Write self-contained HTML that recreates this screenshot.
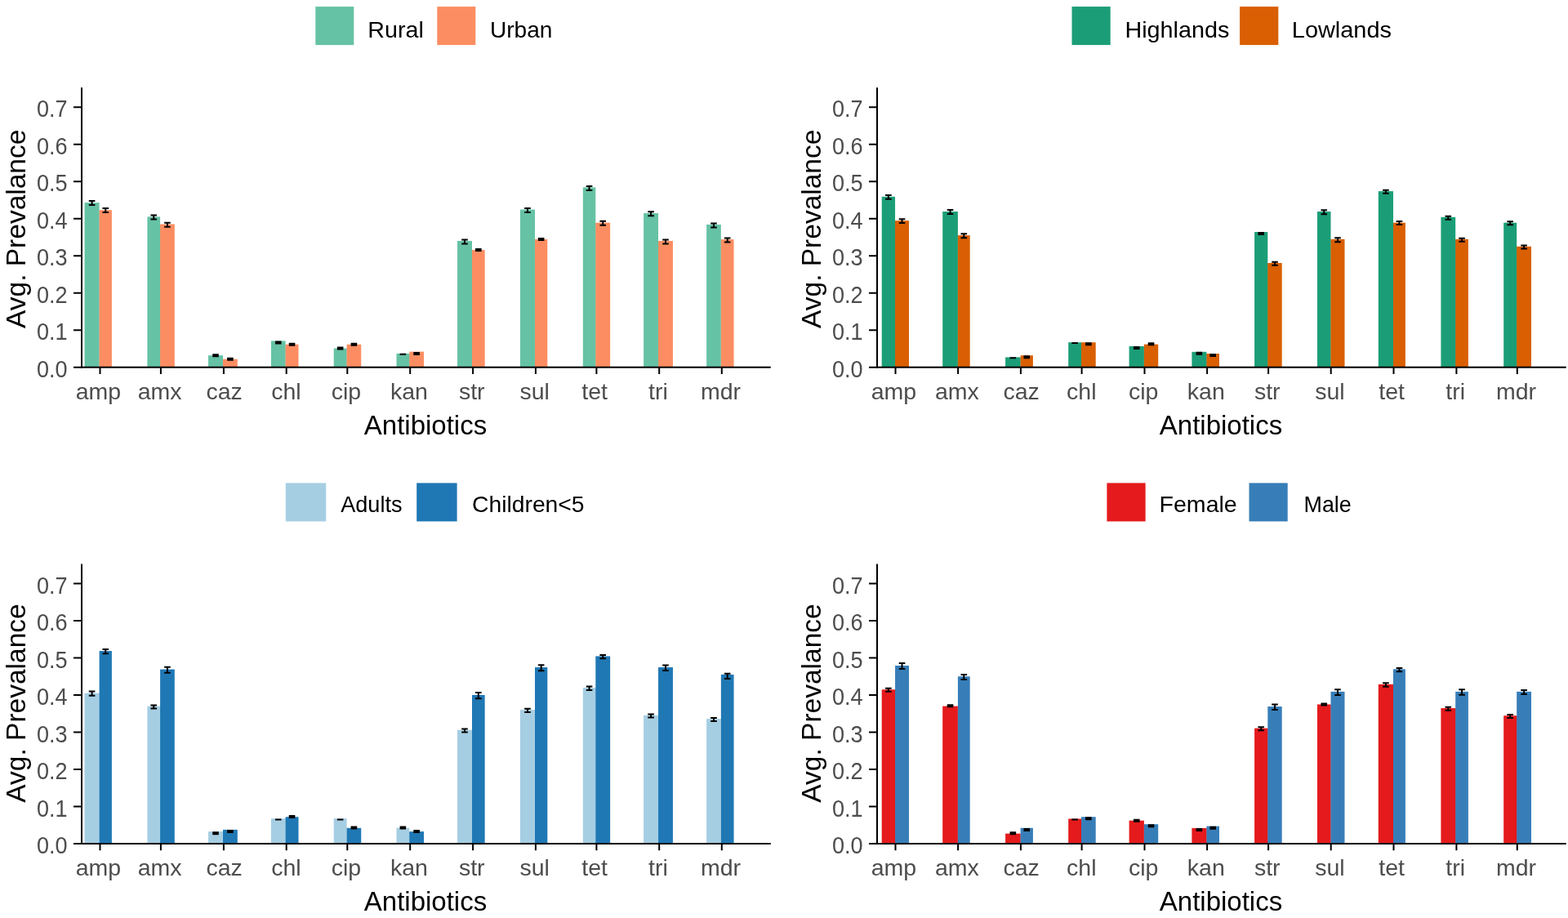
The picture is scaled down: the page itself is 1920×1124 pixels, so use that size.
<!DOCTYPE html>
<html><head><meta charset="utf-8"><title>Antibiotic resistance prevalence</title>
<style>
html,body{margin:0;padding:0;background:#fff;}
body{width:1920px;height:1124px;overflow:hidden;}
svg{display:block;}
text{font-family:"Liberation Sans",Arial,Helvetica,sans-serif;}
.yl{font-size:28.5px;fill:#4D4D4D;text-anchor:end;}
.xl{font-size:28.5px;fill:#4D4D4D;text-anchor:middle;}
.xt{font-size:33px;fill:#000;text-anchor:middle;}
.yt{font-size:33.5px;fill:#000;text-anchor:middle;}
.lg{font-size:28px;fill:#000;}
</style></head>
<body>
<svg width="1920" height="1124" viewBox="0 0 1920 1124">
<rect width="1920" height="1124" fill="#fff"/>
<rect x="103.6" y="248.09" width="18" height="201.61" fill="#66C2A5"/>
<rect x="121.6" y="257.69" width="1" height="192.01" fill="#66C2A5"/>
<rect x="121.6" y="257.19" width="15.3" height="192.51" fill="#FC8D62"/>
<rect x="180.4" y="265.38" width="15.7" height="184.32" fill="#66C2A5"/>
<rect x="196.1" y="274.99" width="1" height="174.71" fill="#66C2A5"/>
<rect x="196.1" y="274.49" width="17.7" height="175.21" fill="#FC8D62"/>
<rect x="255.05" y="435.14" width="17.95" height="14.56" fill="#66C2A5"/>
<rect x="273" y="440.19" width="1" height="9.51" fill="#66C2A5"/>
<rect x="273" y="439.69" width="17.8" height="10.01" fill="#FC8D62"/>
<rect x="331.9" y="417.39" width="17.7" height="32.31" fill="#66C2A5"/>
<rect x="349.6" y="422.21" width="1" height="27.49" fill="#66C2A5"/>
<rect x="349.6" y="421.71" width="15.9" height="27.99" fill="#FC8D62"/>
<rect x="408.7" y="426.49" width="15.9" height="23.21" fill="#66C2A5"/>
<rect x="424.6" y="426.99" width="1" height="22.71" fill="#66C2A5"/>
<rect x="424.6" y="421.71" width="17.65" height="27.99" fill="#FC8D62"/>
<rect x="485.5" y="432.86" width="15.75" height="16.84" fill="#66C2A5"/>
<rect x="501.25" y="433.36" width="1" height="16.34" fill="#66C2A5"/>
<rect x="501.25" y="430.59" width="17.75" height="19.11" fill="#FC8D62"/>
<rect x="560" y="294.97" width="18" height="154.73" fill="#66C2A5"/>
<rect x="578" y="306.57" width="1" height="143.13" fill="#66C2A5"/>
<rect x="578" y="306.07" width="15.65" height="143.63" fill="#FC8D62"/>
<rect x="636.9" y="256.56" width="18.1" height="193.14" fill="#66C2A5"/>
<rect x="655" y="293.46" width="1" height="156.24" fill="#66C2A5"/>
<rect x="655" y="292.96" width="15.3" height="156.74" fill="#FC8D62"/>
<rect x="713.8" y="229.43" width="15.5" height="220.27" fill="#66C2A5"/>
<rect x="729.3" y="273.17" width="1" height="176.53" fill="#66C2A5"/>
<rect x="729.3" y="272.67" width="17.85" height="177.03" fill="#FC8D62"/>
<rect x="788.1" y="261.06" width="17.95" height="188.64" fill="#66C2A5"/>
<rect x="806.05" y="295.47" width="1" height="154.23" fill="#66C2A5"/>
<rect x="806.05" y="294.97" width="17.9" height="154.73" fill="#FC8D62"/>
<rect x="865.1" y="274.94" width="17.75" height="174.76" fill="#66C2A5"/>
<rect x="882.85" y="293.65" width="1" height="156.05" fill="#66C2A5"/>
<rect x="882.85" y="293.15" width="15.7" height="156.55" fill="#FC8D62"/>
<path d="M108.8 245.99h7.6M108.8 250.99h7.6M112.6 245.99v5M125.45 254.99h7.6M125.45 259.99h7.6M129.25 254.99v5M184.45 263.58h7.6M184.45 268.58h7.6M188.25 263.58v5M201.15 272.79h7.6M201.15 277.79h7.6M204.95 272.79v5M260.22 434.14h7.6M260.22 436.14h7.6M264.02 434.14v2M278.1 438.69h7.6M278.1 440.69h7.6M281.9 438.69v2M336.95 418.59h7.6M336.95 420.59h7.6M340.75 418.59v2M353.75 420.71h7.6M353.75 422.71h7.6M357.55 420.71v2M412.85 425.49h7.6M412.85 427.49h7.6M416.65 425.49v2M429.62 420.71h7.6M429.62 422.71h7.6M433.43 420.71v2M489.57 433.86h7.6M489.57 433.86h7.6M493.38 433.86v0M506.32 431.89h7.6M506.32 433.89h7.6M510.12 431.89v2M565.2 293.47h7.6M565.2 298.47h7.6M569 293.47v5M582.03 305.07h7.6M582.03 307.07h7.6M585.83 305.07v2M642.15 255.06h7.6M642.15 260.06h7.6M645.95 255.06v5M658.85 291.96h7.6M658.85 293.96h7.6M662.65 291.96v2M717.75 227.93h7.6M717.75 232.93h7.6M721.55 227.93v5M734.42 270.77h7.6M734.42 275.77h7.6M738.22 270.77v5M793.28 259.36h7.6M793.28 264.36h7.6M797.08 259.36v5M811.2 293.47h7.6M811.2 298.47h7.6M815 293.47v5M870.18 273.44h7.6M870.18 278.44h7.6M873.98 273.44v5M886.9 291.45h7.6M886.9 296.45h7.6M890.7 291.45v5" stroke="#000" stroke-width="2" fill="none"/>
<rect x="99" y="107.2" width="2" height="343.5" fill="#000"/>
<rect x="99" y="448.7" width="844.75" height="2" fill="#000"/>
<text class="yl" transform="translate(82.6 462) scale(0.95 1.05)">0.0</text>
<text class="yl" transform="translate(82.6 416.49) scale(0.95 1.05)">0.1</text>
<text class="yl" transform="translate(82.6 370.98) scale(0.95 1.05)">0.2</text>
<text class="yl" transform="translate(82.6 325.47) scale(0.95 1.05)">0.3</text>
<text class="yl" transform="translate(82.6 279.96) scale(0.95 1.05)">0.4</text>
<text class="yl" transform="translate(82.6 234.45) scale(0.95 1.05)">0.5</text>
<text class="yl" transform="translate(82.6 188.94) scale(0.95 1.05)">0.6</text>
<text class="yl" transform="translate(82.6 143.43) scale(0.95 1.05)">0.7</text>
<text class="xl" x="120.4" y="489">amp</text>
<text class="xl" x="195.6" y="489">amx</text>
<text class="xl" x="274.6" y="489">caz</text>
<text class="xl" x="350.4" y="489">chl</text>
<text class="xl" x="424" y="489">cip</text>
<text class="xl" x="500.9" y="489">kan</text>
<text class="xl" x="577.8" y="489">str</text>
<text class="xl" x="654.6" y="489">sul</text>
<text class="xl" x="728.1" y="489">tet</text>
<text class="xl" x="805.9" y="489">tri</text>
<text class="xl" x="882.5" y="489">mdr</text>
<path d="M90 449.7H100M90 404.19H100M90 358.68H100M90 313.17H100M90 267.66H100M90 222.15H100M90 176.64H100M90 131.13H100M122.5 449.7V458M196.9 449.7V458M273.9 449.7V458M350.7 449.7V458M425.3 449.7V458M502.2 449.7V458M579.1 449.7V458M655.9 449.7V458M730.4 449.7V458M807.2 449.7V458M883.8 449.7V458" stroke="#000" stroke-width="2" fill="none"/>
<text class="xt" x="521" y="531.5">Antibiotics</text>
<text class="yt" transform="translate(31 280.3) rotate(-90)">Avg. Prevalance</text>
<rect x="386.3" y="8.1" width="47" height="47" fill="#66C2A5"/>
<text class="lg" x="450.3" y="46.2" textLength="68.5" lengthAdjust="spacingAndGlyphs">Rural</text>
<rect x="535.3" y="8.1" width="47" height="47" fill="#FC8D62"/>
<text class="lg" x="600" y="46.2" textLength="76.4" lengthAdjust="spacingAndGlyphs">Urban</text>
<rect x="1079.7" y="240.81" width="16.35" height="208.89" fill="#1B9E77"/>
<rect x="1096.05" y="270.66" width="1" height="179.04" fill="#1B9E77"/>
<rect x="1096.05" y="270.16" width="16.95" height="179.54" fill="#D95F02"/>
<rect x="1154.2" y="259.01" width="18.7" height="190.69" fill="#1B9E77"/>
<rect x="1172.9" y="288.64" width="1" height="161.06" fill="#1B9E77"/>
<rect x="1172.9" y="288.14" width="14.8" height="161.56" fill="#D95F02"/>
<rect x="1231.1" y="437.41" width="18.5" height="12.29" fill="#1B9E77"/>
<rect x="1249.6" y="437.91" width="1" height="11.79" fill="#1B9E77"/>
<rect x="1249.6" y="435.14" width="15.3" height="14.56" fill="#D95F02"/>
<rect x="1308.2" y="419.21" width="15.8" height="30.49" fill="#1B9E77"/>
<rect x="1324" y="419.71" width="1" height="29.99" fill="#1B9E77"/>
<rect x="1324" y="419.21" width="17.7" height="30.49" fill="#D95F02"/>
<rect x="1382.6" y="423.9" width="18.3" height="25.8" fill="#1B9E77"/>
<rect x="1400.9" y="424.4" width="1" height="25.3" fill="#1B9E77"/>
<rect x="1400.9" y="421.57" width="17.3" height="28.13" fill="#D95F02"/>
<rect x="1459.4" y="430.81" width="18" height="18.89" fill="#1B9E77"/>
<rect x="1477.4" y="433.5" width="1" height="16.2" fill="#1B9E77"/>
<rect x="1477.4" y="433" width="15.6" height="16.7" fill="#D95F02"/>
<rect x="1536.1" y="284.04" width="16.2" height="165.66" fill="#1B9E77"/>
<rect x="1552.3" y="322.5" width="1" height="127.2" fill="#1B9E77"/>
<rect x="1552.3" y="322" width="17.4" height="127.7" fill="#D95F02"/>
<rect x="1613" y="259.01" width="16.5" height="190.69" fill="#1B9E77"/>
<rect x="1629.5" y="293.37" width="1" height="156.33" fill="#1B9E77"/>
<rect x="1629.5" y="292.87" width="17" height="156.83" fill="#D95F02"/>
<rect x="1687.8" y="234.12" width="18.2" height="215.58" fill="#1B9E77"/>
<rect x="1706" y="273.17" width="1" height="176.53" fill="#1B9E77"/>
<rect x="1706" y="272.67" width="14.9" height="177.03" fill="#D95F02"/>
<rect x="1764.4" y="265.84" width="17.8" height="183.86" fill="#1B9E77"/>
<rect x="1782.2" y="293.37" width="1" height="156.33" fill="#1B9E77"/>
<rect x="1782.2" y="292.87" width="15.7" height="156.83" fill="#D95F02"/>
<rect x="1841.2" y="272.67" width="16" height="177.03" fill="#1B9E77"/>
<rect x="1857.2" y="302.29" width="1" height="147.41" fill="#1B9E77"/>
<rect x="1857.2" y="301.79" width="17.8" height="147.91" fill="#D95F02"/>
<path d="M1084.08 238.96h7.6M1084.08 243.66h7.6M1087.88 238.96v4.7M1100.73 268.31h7.6M1100.73 273.01h7.6M1104.53 268.31v4.7M1159.75 257.01h7.6M1159.75 262.01h7.6M1163.55 257.01v5M1176.5 286.14h7.6M1176.5 291.14h7.6M1180.3 286.14v5M1236.55 438.21h7.6M1236.55 438.21h7.6M1240.35 438.21v0M1253.45 436.24h7.6M1253.45 438.24h7.6M1257.25 436.24v2M1312.3 420.11h7.6M1312.3 420.11h7.6M1316.1 420.11v0M1329.05 420.31h7.6M1329.05 422.31h7.6M1332.85 420.31v2M1387.95 425h7.6M1387.95 427h7.6M1391.75 425v2M1405.75 420.37h7.6M1405.75 422.37h7.6M1409.55 420.37v2M1464.6 431.81h7.6M1464.6 433.81h7.6M1468.4 431.81v2M1481.4 434.1h7.6M1481.4 436.1h7.6M1485.2 434.1v2M1540.4 284.94h7.6M1540.4 286.94h7.6M1544.2 284.94v2M1557.2 320.8h7.6M1557.2 324.8h7.6M1561 320.8v4M1617.45 257.31h7.6M1617.45 262.31h7.6M1621.25 257.31v5M1634.2 291.17h7.6M1634.2 296.17h7.6M1638 291.17v5M1693.1 232.82h7.6M1693.1 236.82h7.6M1696.9 232.82v4M1709.65 271.07h7.6M1709.65 275.07h7.6M1713.45 271.07v4M1769.5 264.84h7.6M1769.5 268.84h7.6M1773.3 264.84v4M1786.25 291.67h7.6M1786.25 295.67h7.6M1790.05 291.67v4M1845.4 271.37h7.6M1845.4 275.37h7.6M1849.2 271.37v4M1862.3 300.49h7.6M1862.3 304.49h7.6M1866.1 300.49v4" stroke="#000" stroke-width="2" fill="none"/>
<rect x="1073" y="107.2" width="2" height="343.5" fill="#000"/>
<rect x="1073" y="448.7" width="844.75" height="2" fill="#000"/>
<text class="yl" transform="translate(1056.6 462) scale(0.95 1.05)">0.0</text>
<text class="yl" transform="translate(1056.6 416.49) scale(0.95 1.05)">0.1</text>
<text class="yl" transform="translate(1056.6 370.98) scale(0.95 1.05)">0.2</text>
<text class="yl" transform="translate(1056.6 325.47) scale(0.95 1.05)">0.3</text>
<text class="yl" transform="translate(1056.6 279.96) scale(0.95 1.05)">0.4</text>
<text class="yl" transform="translate(1056.6 234.45) scale(0.95 1.05)">0.5</text>
<text class="yl" transform="translate(1056.6 188.94) scale(0.95 1.05)">0.6</text>
<text class="yl" transform="translate(1056.6 143.43) scale(0.95 1.05)">0.7</text>
<text class="xl" x="1094.4" y="489">amp</text>
<text class="xl" x="1171.8" y="489">amx</text>
<text class="xl" x="1250.6" y="489">caz</text>
<text class="xl" x="1324.3" y="489">chl</text>
<text class="xl" x="1400.2" y="489">cip</text>
<text class="xl" x="1476.8" y="489">kan</text>
<text class="xl" x="1551.8" y="489">str</text>
<text class="xl" x="1628.4" y="489">sul</text>
<text class="xl" x="1704.2" y="489">tet</text>
<text class="xl" x="1782.1" y="489">tri</text>
<text class="xl" x="1856.5" y="489">mdr</text>
<path d="M1064 449.7H1074M1064 404.19H1074M1064 358.68H1074M1064 313.17H1074M1064 267.66H1074M1064 222.15H1074M1064 176.64H1074M1064 131.13H1074M1096.5 449.7V458M1173.1 449.7V458M1249.9 449.7V458M1324.6 449.7V458M1401.5 449.7V458M1478.1 449.7V458M1553.1 449.7V458M1629.7 449.7V458M1706.5 449.7V458M1783.4 449.7V458M1857.8 449.7V458" stroke="#000" stroke-width="2" fill="none"/>
<text class="xt" x="1495" y="531.5">Antibiotics</text>
<text class="yt" transform="translate(1005 280.3) rotate(-90)">Avg. Prevalance</text>
<rect x="1312.5" y="8.1" width="47.2" height="47" fill="#1B9E77"/>
<text class="lg" x="1377.4" y="46.2" textLength="127.9" lengthAdjust="spacingAndGlyphs">Highlands</text>
<rect x="1518.1" y="8.1" width="47.2" height="47" fill="#D95F02"/>
<text class="lg" x="1581.8" y="46.2" textLength="122.2" lengthAdjust="spacingAndGlyphs">Lowlands</text>
<rect x="103.6" y="848.68" width="18" height="184.32" fill="#A6CEE3"/>
<rect x="121.6" y="849.18" width="1" height="183.82" fill="#A6CEE3"/>
<rect x="121.6" y="797.03" width="15.3" height="235.97" fill="#1F78B4"/>
<rect x="180.4" y="864.75" width="15.7" height="168.25" fill="#A6CEE3"/>
<rect x="196.1" y="865.25" width="1" height="167.75" fill="#A6CEE3"/>
<rect x="196.1" y="819.56" width="17.7" height="213.44" fill="#1F78B4"/>
<rect x="255.05" y="1018.12" width="17.95" height="14.88" fill="#A6CEE3"/>
<rect x="273" y="1018.62" width="1" height="14.38" fill="#A6CEE3"/>
<rect x="273" y="1015.89" width="17.8" height="17.11" fill="#1F78B4"/>
<rect x="331.9" y="1002.19" width="17.7" height="30.81" fill="#A6CEE3"/>
<rect x="349.6" y="1002.69" width="1" height="30.31" fill="#A6CEE3"/>
<rect x="349.6" y="1000.23" width="15.9" height="32.77" fill="#1F78B4"/>
<rect x="408.7" y="1002.19" width="15.9" height="30.81" fill="#A6CEE3"/>
<rect x="424.6" y="1014.25" width="1" height="18.75" fill="#A6CEE3"/>
<rect x="424.6" y="1013.75" width="17.65" height="19.25" fill="#1F78B4"/>
<rect x="485.5" y="1013.75" width="15.75" height="19.25" fill="#A6CEE3"/>
<rect x="501.25" y="1018.62" width="1" height="14.38" fill="#A6CEE3"/>
<rect x="501.25" y="1018.12" width="17.75" height="14.88" fill="#1F78B4"/>
<rect x="560" y="893.74" width="18" height="139.26" fill="#A6CEE3"/>
<rect x="578" y="894.24" width="1" height="138.76" fill="#A6CEE3"/>
<rect x="578" y="850.96" width="15.65" height="182.04" fill="#1F78B4"/>
<rect x="636.9" y="869.16" width="18.1" height="163.84" fill="#A6CEE3"/>
<rect x="655" y="869.66" width="1" height="163.34" fill="#A6CEE3"/>
<rect x="655" y="817.06" width="15.3" height="215.94" fill="#1F78B4"/>
<rect x="713.8" y="842.04" width="15.5" height="190.96" fill="#A6CEE3"/>
<rect x="729.3" y="842.54" width="1" height="190.46" fill="#A6CEE3"/>
<rect x="729.3" y="803.45" width="17.85" height="229.55" fill="#1F78B4"/>
<rect x="788.1" y="875.76" width="17.95" height="157.24" fill="#A6CEE3"/>
<rect x="806.05" y="876.26" width="1" height="156.74" fill="#A6CEE3"/>
<rect x="806.05" y="817.06" width="17.9" height="215.94" fill="#1F78B4"/>
<rect x="865.1" y="880.18" width="17.75" height="152.82" fill="#A6CEE3"/>
<rect x="882.85" y="880.68" width="1" height="152.32" fill="#A6CEE3"/>
<rect x="882.85" y="825.93" width="15.7" height="207.07" fill="#1F78B4"/>
<path d="M108.8 846.58h7.6M108.8 851.78h7.6M112.6 846.58v5.2M125.45 794.93h7.6M125.45 800.13h7.6M129.25 794.93v5.2M184.45 863.45h7.6M184.45 867.45h7.6M188.25 863.45v4M201.15 816.66h7.6M201.15 823.86h7.6M204.95 816.66v7.2M260.22 1019.32h7.6M260.22 1021.32h7.6M264.02 1019.32v2M278.1 1016.99h7.6M278.1 1018.99h7.6M281.9 1016.99v2M336.95 1003.39h7.6M336.95 1003.39h7.6M340.75 1003.39v0M353.75 999.03h7.6M353.75 1001.03h7.6M357.55 999.03v2M412.85 1003.39h7.6M412.85 1003.39h7.6M416.65 1003.39v0M429.62 1012.55h7.6M429.62 1014.55h7.6M433.43 1012.55v2M489.57 1012.55h7.6M489.57 1014.55h7.6M493.38 1012.55v2M506.32 1016.92h7.6M506.32 1018.92h7.6M510.12 1016.92v2M565.2 892.44h7.6M565.2 896.44h7.6M569 892.44v4M582.03 848.06h7.6M582.03 855.26h7.6M585.83 848.06v7.2M642.15 867.66h7.6M642.15 872.06h7.6M645.95 867.66v4.4M658.85 814.16h7.6M658.85 821.36h7.6M662.65 814.16v7.2M717.75 840.54h7.6M717.75 844.94h7.6M721.55 840.54v4.4M734.42 801.95h7.6M734.42 806.35h7.6M738.22 801.95v4.4M793.28 874.46h7.6M793.28 878.46h7.6M797.08 874.46v4M811.2 814.41h7.6M811.2 821.11h7.6M815 814.41v6.7M870.18 878.88h7.6M870.18 882.88h7.6M873.98 878.88v4M886.9 824.73h7.6M886.9 830.93h7.6M890.7 824.73v6.2" stroke="#000" stroke-width="2" fill="none"/>
<rect x="99" y="690.5" width="2" height="343.5" fill="#000"/>
<rect x="99" y="1032" width="844.75" height="2" fill="#000"/>
<text class="yl" transform="translate(82.6 1045.3) scale(0.95 1.05)">0.0</text>
<text class="yl" transform="translate(82.6 999.79) scale(0.95 1.05)">0.1</text>
<text class="yl" transform="translate(82.6 954.28) scale(0.95 1.05)">0.2</text>
<text class="yl" transform="translate(82.6 908.77) scale(0.95 1.05)">0.3</text>
<text class="yl" transform="translate(82.6 863.26) scale(0.95 1.05)">0.4</text>
<text class="yl" transform="translate(82.6 817.75) scale(0.95 1.05)">0.5</text>
<text class="yl" transform="translate(82.6 772.24) scale(0.95 1.05)">0.6</text>
<text class="yl" transform="translate(82.6 726.73) scale(0.95 1.05)">0.7</text>
<text class="xl" x="120.4" y="1072.3">amp</text>
<text class="xl" x="195.6" y="1072.3">amx</text>
<text class="xl" x="274.6" y="1072.3">caz</text>
<text class="xl" x="350.4" y="1072.3">chl</text>
<text class="xl" x="424" y="1072.3">cip</text>
<text class="xl" x="500.9" y="1072.3">kan</text>
<text class="xl" x="577.8" y="1072.3">str</text>
<text class="xl" x="654.6" y="1072.3">sul</text>
<text class="xl" x="728.1" y="1072.3">tet</text>
<text class="xl" x="805.9" y="1072.3">tri</text>
<text class="xl" x="882.5" y="1072.3">mdr</text>
<path d="M90 1033H100M90 987.49H100M90 941.98H100M90 896.47H100M90 850.96H100M90 805.45H100M90 759.94H100M90 714.43H100M122.5 1033V1041.3M196.9 1033V1041.3M273.9 1033V1041.3M350.7 1033V1041.3M425.3 1033V1041.3M502.2 1033V1041.3M579.1 1033V1041.3M655.9 1033V1041.3M730.4 1033V1041.3M807.2 1033V1041.3M883.8 1033V1041.3" stroke="#000" stroke-width="2" fill="none"/>
<text class="xt" x="521" y="1114.8">Antibiotics</text>
<text class="yt" transform="translate(31 861) rotate(-90)">Avg. Prevalance</text>
<rect x="349.8" y="591.4" width="49.4" height="47" fill="#A6CEE3"/>
<text class="lg" x="417.2" y="626.7" textLength="75.3" lengthAdjust="spacingAndGlyphs">Adults</text>
<rect x="510.2" y="591.4" width="49.4" height="47" fill="#1F78B4"/>
<text class="lg" x="578" y="626.7" textLength="137.6" lengthAdjust="spacingAndGlyphs">Children&lt;5</text>
<rect x="1079.7" y="844.27" width="16.35" height="188.73" fill="#E41A1C"/>
<rect x="1096.05" y="844.77" width="1" height="188.23" fill="#E41A1C"/>
<rect x="1096.05" y="815.01" width="16.95" height="217.99" fill="#377EB8"/>
<rect x="1154.2" y="864.61" width="18.7" height="168.39" fill="#E41A1C"/>
<rect x="1172.9" y="865.11" width="1" height="167.89" fill="#E41A1C"/>
<rect x="1172.9" y="828.2" width="14.8" height="204.8" fill="#377EB8"/>
<rect x="1231.1" y="1020.62" width="18.5" height="12.38" fill="#E41A1C"/>
<rect x="1249.6" y="1021.12" width="1" height="11.88" fill="#E41A1C"/>
<rect x="1249.6" y="1013.75" width="15.3" height="19.25" fill="#377EB8"/>
<rect x="1308.2" y="1002.51" width="15.8" height="30.49" fill="#E41A1C"/>
<rect x="1324" y="1003.01" width="1" height="29.99" fill="#E41A1C"/>
<rect x="1324" y="1000.23" width="17.7" height="32.77" fill="#377EB8"/>
<rect x="1382.6" y="1004.69" width="18.3" height="28.31" fill="#E41A1C"/>
<rect x="1400.9" y="1009.7" width="1" height="23.3" fill="#E41A1C"/>
<rect x="1400.9" y="1009.2" width="17.3" height="23.8" fill="#377EB8"/>
<rect x="1459.4" y="1013.89" width="18" height="19.11" fill="#E41A1C"/>
<rect x="1477.4" y="1014.39" width="1" height="18.61" fill="#E41A1C"/>
<rect x="1477.4" y="1011.61" width="15.6" height="21.39" fill="#377EB8"/>
<rect x="1536.1" y="891.65" width="16.2" height="141.35" fill="#E41A1C"/>
<rect x="1552.3" y="892.15" width="1" height="140.85" fill="#E41A1C"/>
<rect x="1552.3" y="865.07" width="17.4" height="167.93" fill="#377EB8"/>
<rect x="1613" y="862.47" width="16.5" height="170.53" fill="#E41A1C"/>
<rect x="1629.5" y="862.97" width="1" height="170.03" fill="#E41A1C"/>
<rect x="1629.5" y="846.86" width="17" height="186.14" fill="#377EB8"/>
<rect x="1687.8" y="837.85" width="18.2" height="195.15" fill="#E41A1C"/>
<rect x="1706" y="838.35" width="1" height="194.65" fill="#E41A1C"/>
<rect x="1706" y="819.33" width="14.9" height="213.67" fill="#377EB8"/>
<rect x="1764.4" y="867.07" width="17.8" height="165.93" fill="#E41A1C"/>
<rect x="1782.2" y="867.57" width="1" height="165.43" fill="#E41A1C"/>
<rect x="1782.2" y="846.86" width="15.7" height="186.14" fill="#377EB8"/>
<rect x="1841.2" y="876.22" width="16" height="156.78" fill="#E41A1C"/>
<rect x="1857.2" y="876.72" width="1" height="156.28" fill="#E41A1C"/>
<rect x="1857.2" y="846.86" width="17.8" height="186.14" fill="#377EB8"/>
<path d="M1084.08 842.67h7.6M1084.08 846.87h7.6M1087.88 842.67v4.2M1100.73 812.01h7.6M1100.73 819.01h7.6M1104.53 812.01v7M1159.75 863.21h7.6M1159.75 865.21h7.6M1163.55 863.21v2M1176.5 825.9h7.6M1176.5 831.9h7.6M1180.3 825.9v6M1236.55 1019.32h7.6M1236.55 1021.32h7.6M1240.35 1019.32v2M1253.45 1014.95h7.6M1253.45 1016.95h7.6M1257.25 1014.95v2M1312.3 1003.41h7.6M1312.3 1003.41h7.6M1316.1 1003.41v0M1329.05 1001.33h7.6M1329.05 1003.33h7.6M1332.85 1001.33v2M1387.95 1003.69h7.6M1387.95 1005.69h7.6M1391.75 1003.69v2M1405.75 1010.3h7.6M1405.75 1012.3h7.6M1409.55 1010.3v2M1464.6 1014.89h7.6M1464.6 1016.89h7.6M1468.4 1014.89v2M1481.4 1012.71h7.6M1481.4 1014.71h7.6M1485.2 1012.71v2M1540.4 890.35h7.6M1540.4 894.35h7.6M1544.2 890.35v4M1557.2 862.47h7.6M1557.2 869.07h7.6M1561 862.47v6.6M1617.45 861.47h7.6M1617.45 863.47h7.6M1621.25 861.47v2M1634.2 844.16h7.6M1634.2 850.96h7.6M1638 844.16v6.8M1693.1 836.25h7.6M1693.1 840.85h7.6M1696.9 836.25v4.6M1709.65 817.93h7.6M1709.65 822.13h7.6M1713.45 817.93v4.2M1769.5 865.77h7.6M1769.5 869.77h7.6M1773.3 865.77v4M1786.25 844.26h7.6M1786.25 850.86h7.6M1790.05 844.26v6.6M1845.4 874.92h7.6M1845.4 878.92h7.6M1849.2 874.92v4M1862.3 845.06h7.6M1862.3 850.06h7.6M1866.1 845.06v5" stroke="#000" stroke-width="2" fill="none"/>
<rect x="1073" y="690.5" width="2" height="343.5" fill="#000"/>
<rect x="1073" y="1032" width="844.75" height="2" fill="#000"/>
<text class="yl" transform="translate(1056.6 1045.3) scale(0.95 1.05)">0.0</text>
<text class="yl" transform="translate(1056.6 999.79) scale(0.95 1.05)">0.1</text>
<text class="yl" transform="translate(1056.6 954.28) scale(0.95 1.05)">0.2</text>
<text class="yl" transform="translate(1056.6 908.77) scale(0.95 1.05)">0.3</text>
<text class="yl" transform="translate(1056.6 863.26) scale(0.95 1.05)">0.4</text>
<text class="yl" transform="translate(1056.6 817.75) scale(0.95 1.05)">0.5</text>
<text class="yl" transform="translate(1056.6 772.24) scale(0.95 1.05)">0.6</text>
<text class="yl" transform="translate(1056.6 726.73) scale(0.95 1.05)">0.7</text>
<text class="xl" x="1094.4" y="1072.3">amp</text>
<text class="xl" x="1171.8" y="1072.3">amx</text>
<text class="xl" x="1250.6" y="1072.3">caz</text>
<text class="xl" x="1324.3" y="1072.3">chl</text>
<text class="xl" x="1400.2" y="1072.3">cip</text>
<text class="xl" x="1476.8" y="1072.3">kan</text>
<text class="xl" x="1551.8" y="1072.3">str</text>
<text class="xl" x="1628.4" y="1072.3">sul</text>
<text class="xl" x="1704.2" y="1072.3">tet</text>
<text class="xl" x="1782.1" y="1072.3">tri</text>
<text class="xl" x="1856.5" y="1072.3">mdr</text>
<path d="M1064 1033H1074M1064 987.49H1074M1064 941.98H1074M1064 896.47H1074M1064 850.96H1074M1064 805.45H1074M1064 759.94H1074M1064 714.43H1074M1096.5 1033V1041.3M1173.1 1033V1041.3M1249.9 1033V1041.3M1324.6 1033V1041.3M1401.5 1033V1041.3M1478.1 1033V1041.3M1553.1 1033V1041.3M1629.7 1033V1041.3M1706.5 1033V1041.3M1783.4 1033V1041.3M1857.8 1033V1041.3" stroke="#000" stroke-width="2" fill="none"/>
<text class="xt" x="1495" y="1114.8">Antibiotics</text>
<text class="yt" transform="translate(1005 861) rotate(-90)">Avg. Prevalance</text>
<rect x="1355.4" y="591.4" width="47.2" height="47" fill="#E41A1C"/>
<text class="lg" x="1419.6" y="626.7" textLength="95.1" lengthAdjust="spacingAndGlyphs">Female</text>
<rect x="1529.5" y="591.4" width="47.2" height="47" fill="#377EB8"/>
<text class="lg" x="1596.5" y="626.7" textLength="58.3" lengthAdjust="spacingAndGlyphs">Male</text>
</svg>
</body></html>
